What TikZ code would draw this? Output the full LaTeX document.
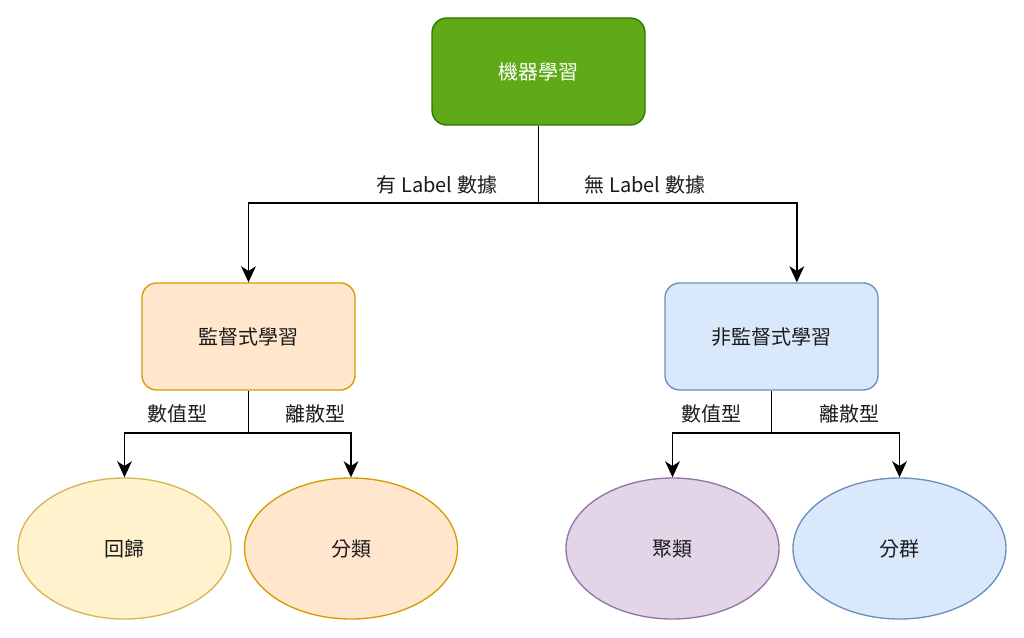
\documentclass[tikz,border=0pt]{standalone}
\usepackage{fontspec}
\setmainfont{Noto Sans CJK TC}
\usepackage{tikz}
\usetikzlibrary{positioning,shapes.geometric,arrows.meta}
\definecolor{mlfill}{HTML}{60A917}
\definecolor{mlline}{HTML}{2D7600}
\definecolor{orgfill}{HTML}{FFE6CC}
\definecolor{orgline}{HTML}{D79B00}
\definecolor{bluefill}{HTML}{DAE8FC}
\definecolor{blueline}{HTML}{6C8EBF}
\definecolor{yelfill}{HTML}{FFF2CC}
\definecolor{yelline}{HTML}{D6B656}
\definecolor{purfill}{HTML}{E1D5E7}
\definecolor{purline}{HTML}{9673A6}
\definecolor{txt}{HTML}{1A1A1A}
\tikzset{>={Stealth[length=12pt,width=11pt,inset=3.5pt]}}
\tikzset{
  box/.style={draw,rounded corners=11pt,minimum width=159.75pt,minimum height=80.25pt,line width=1pt,text=txt,font=\fontsize{15}{18}\selectfont},
  leaf/.style={draw,ellipse,minimum width=159.75pt,minimum height=105.75pt,line width=1pt,text=txt,font=\fontsize{15}{18}\selectfont},
  lbl/.style={font=\fontsize{15}{18}\selectfont,text=txt,inner sep=0pt},
  link/.style={line width=1.4pt}
}

\begin{document}
\begin{tikzpicture}[x=0.75pt,y=-0.75pt]
      \useasboundingbox (0,0) rectangle (1024,638);
      \node[box,fill=mlfill,draw=mlline,text=white] (ml) at (538.5,71.5) {機器學習};
      \node[box,fill=orgfill,draw=orgline] (sup) at (248.5,336.5) {監督式學習};
      \node[box,fill=bluefill,draw=blueline] (unsup) at (771.5,336.5) {非監督式學習};
      \node[leaf,fill=yelfill,draw=yelline] (reg) at (124.5,548.5) {回歸};
      \node[leaf,fill=orgfill,draw=orgline] (cls) at (351,548.5) {分類};
      \node[leaf,fill=purfill,draw=purline] (clu) at (672.5,548.5) {聚類};
      \node[leaf,fill=bluefill,draw=blueline] (grp) at (899.5,548.5) {分群};
      \coordinate (mlsplit) at (538.5,203);
      \coordinate (supsplit) at (248.5,433);
      \coordinate (unsupsplit) at (771.5,433);
      \draw[link] (ml) -- (mlsplit);
      \draw[link,->] (mlsplit) -| (sup);
      \draw[link,->] (mlsplit) -| ([xshift=19pt]unsup.north);
      \draw[link] (sup) -- (supsplit);
      \draw[link,->] (supsplit) -| (reg);
      \draw[link,->] (supsplit) -| (cls);
      \draw[link] (unsup) -- (unsupsplit);
      \draw[link,->] (unsupsplit) -| (clu);
      \draw[link,->] (unsupsplit) -| (grp);
      \node[lbl] (haslabel) at (437,185) {有 Label 數據};
      \node[lbl] (nolabel) at (645,185) {無 Label 數據};
      \node[lbl] (supnum) at (177,414) {數值型};
      \node[lbl] (supcat) at (315,414) {離散型};
      \node[lbl] (unsupnum) at (711,414) {數值型};
      \node[lbl] (unsupcat) at (849,414) {離散型};
    \end{tikzpicture}
\end{document}
